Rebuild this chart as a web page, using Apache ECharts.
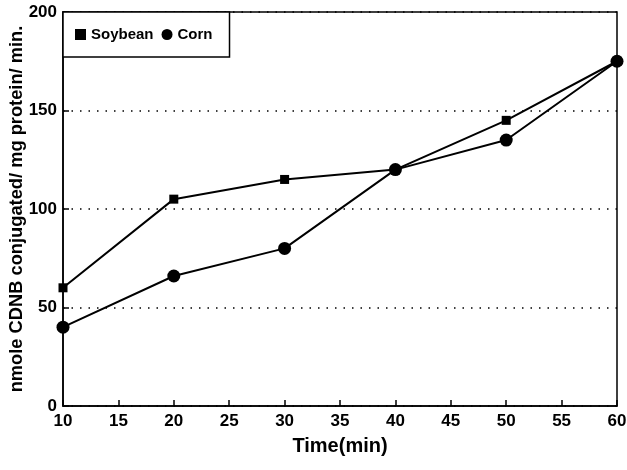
<!DOCTYPE html>
<html>
<head>
<meta charset="utf-8">
<script src="https://cdn.jsdelivr.net/npm/echarts@6/dist/echarts.min.js"></script>
<style>
  html, body { margin: 0; padding: 0; background: #fff; }
  #chart { width: 627px; height: 470px; }
</style>
</head>
<body>
<div id="chart"></div>
<script>
// Sampling times (min)
const times = [10, 20, 30, 40, 50, 60];
// GST activity, nmole CDNB conjugated / mg protein / min
const soybean = [60, 105, 115, 120, 145, 175];
const corn = [40, 66, 80, 120, 135, 175];
// Axis ranges
const xTicks = { min: 10, max: 60, step: 5 };
const yTicks = { min: 0, max: 200, step: 50 };

const font = 'Liberation Sans, Arial, Helvetica, sans-serif';
const chart = echarts.init(document.getElementById('chart'));

chart.setOption({
  animation: false,
  backgroundColor: '#fff',
  grid: {
    left: 63, right: 10, top: 12, bottom: 64,
    outerBoundsMode: 'none',
    containLabel: false,
    show: true, borderColor: '#000', borderWidth: 1.5, backgroundColor: 'transparent'
  },
  legend: {
    left: 63, top: 12,
    padding: [15, 17, 15, 12],
    borderColor: '#000', borderWidth: 1.5,
    backgroundColor: '#fff',
    itemWidth: 11, itemHeight: 11, itemGap: 8,
    textStyle: { fontFamily: font, fontWeight: 'bold', fontSize: 15, color: '#000' },
    data: [
      { name: 'Soybean', icon: 'rect', itemStyle: { color: '#000' } },
      { name: 'Corn', icon: 'circle', itemStyle: { color: '#000' } }
    ]
  },
  xAxis: {
    type: 'value',
    min: xTicks.min, max: xTicks.max, interval: xTicks.step,
    name: 'Time(min)', nameLocation: 'middle', nameGap: 30,
    nameMoveOverlap: false,
    nameTextStyle: { fontFamily: font, fontWeight: 'bold', fontSize: 20, color: '#000' },
    axisLine: { lineStyle: { color: '#000', width: 1.5 } },
    axisTick: { inside: true, length: 6, lineStyle: { color: '#000', width: 1.5 } },
    axisLabel: { fontFamily: font, fontWeight: 'bold', fontSize: 17, color: '#000', margin: 7 },
    splitLine: { show: false }
  },
  yAxis: {
    type: 'value',
    min: yTicks.min, max: yTicks.max, interval: yTicks.step,
    name: 'nmole CDNB conjugated/ mg protein/ min.', nameLocation: 'middle', nameGap: 37,
    nameMoveOverlap: false,
    nameTextStyle: { fontFamily: font, fontWeight: 'bold', fontSize: 18.3, color: '#000' },
    axisLine: { lineStyle: { color: '#000', width: 1.5 } },
    axisTick: { inside: true, length: 6, lineStyle: { color: '#000', width: 1.5 } },
    axisLabel: { fontFamily: font, fontWeight: 'bold', fontSize: 17, color: '#000', margin: 6 },
    splitLine: { show: true, lineStyle: { color: '#000', type: [1.5, 7], width: 1.5 } }
  },
  series: [
    {
      name: 'Soybean', type: 'line',
      data: times.map((t, i) => [t, soybean[i]]),
      symbol: 'rect', symbolSize: 9,
      lineStyle: { color: '#000', width: 2 },
      itemStyle: { color: '#000' }
    },
    {
      name: 'Corn', type: 'line',
      data: times.map((t, i) => [t, corn[i]]),
      symbol: 'circle', symbolSize: 13,
      lineStyle: { color: '#000', width: 2 },
      itemStyle: { color: '#000' }
    }
  ]
});
</script>
</body>
</html>
